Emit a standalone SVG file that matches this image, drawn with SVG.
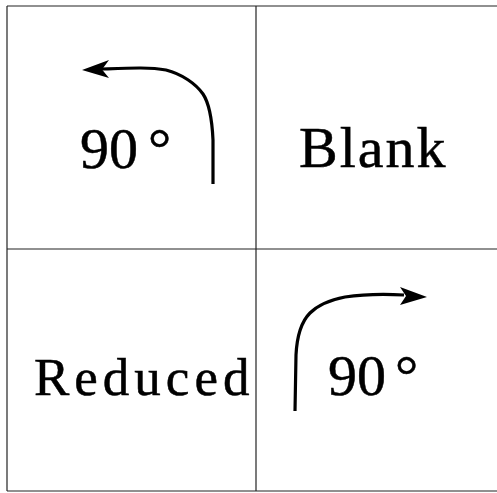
<svg xmlns="http://www.w3.org/2000/svg" width="497" height="493" viewBox="0 0 497 493">
<style>
.grid{stroke:#222;stroke-width:1.2;fill:none}
.arrow{stroke:#000;stroke-width:3.2;fill:none;stroke-linecap:butt;stroke-linejoin:round}
.head{fill:#000;stroke:none}
.lbl{font-family:"Liberation Serif","Times New Roman","DejaVu Serif",serif;fill:#000;stroke:#000;stroke-width:0.5}
</style>
<rect width="497" height="493" fill="#fff"/>
<g id="grid">
<line class="grid" x1="7" y1="6" x2="497" y2="6"/>
<line class="grid" x1="7" y1="249" x2="497" y2="249"/>
<line class="grid" x1="7" y1="491" x2="497" y2="491"/>
<line class="grid" x1="7" y1="6" x2="7" y2="491"/>
<line class="grid" x1="256" y1="6" x2="256" y2="491"/>
</g>
<g id="cell-top-left">
<text class="lbl" x="80" y="168" font-size="58">90<tspan dx="10">°</tspan></text>
</g>
<g id="cell-top-right">
<text class="lbl" x="299" y="167" font-size="58" letter-spacing="2">Blank</text>
</g>
<g id="cell-bottom-left">
<text class="lbl" x="34" y="395" font-size="53" letter-spacing="5">Reduced</text>
</g>
<g id="cell-bottom-right">
<text class="lbl" x="328" y="395" font-size="58">90<tspan dx="9">°</tspan></text>
</g>
<g id="connectors">
<path class="arrow" d="M213,184 L213,140 C212,118 209,103 203,94 C196,84 182,74 166,70 C150,67 130,68 102,69"/>
<polygon class="head" points="82,70 109,60 102,69.5 109,78"/>
<path class="arrow" d="M295,411 L296,355 C297,335 301,322 310,313 C318,305 330,300 345,297 C365,294 385,294 404,295"/>
<polygon class="head" points="427,297 400,287 406,296 400,305"/>
</g>
</svg>
